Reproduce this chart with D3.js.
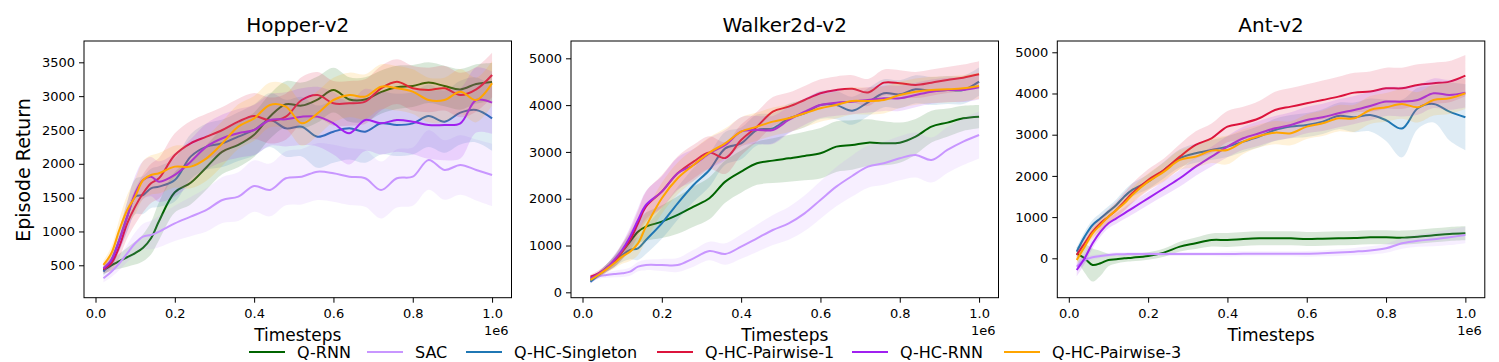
<!DOCTYPE html>
<html>
<head>
  <meta charset="utf-8">
  <title>Episode Return vs Timesteps</title>
  <script src="https://cdn.jsdelivr.net/npm/d3@7"></script>
  <style>
    body { margin: 0; background: #fff; }
    svg text { font-family: "DejaVu Sans", sans-serif; fill: #000; }
  </style>
</head>
<body>
<script>
  // timesteps (in units of 1e6) where the curves are sampled
  var steps = [0.02, 0.04, 0.06, 0.08, 0.10, 0.12, 0.14, 0.16, 0.20, 0.24, 0.28, 0.32, 0.36, 0.40,
               0.44, 0.48, 0.52, 0.56, 0.60, 0.64, 0.68, 0.72, 0.76, 0.80, 0.84, 0.88, 0.92, 0.96, 1.00];

  var methods = ["Q-RNN", "SAC", "Q-HC-Singleton", "Q-HC-Pairwise-1", "Q-HC-RNN", "Q-HC-Pairwise-3"];
  var colors = ["#006400", "#c896ff", "#1f77b4", "#dc143c", "#a020f0", "#ffa500"];
  var envs = ["Hopper-v2", "Walker2d-v2", "Ant-v2"];

  var xTicks = [0, 0.2, 0.4, 0.6, 0.8, 1.0];
  var hopperTicks = [500, 1000, 1500, 2000, 2500, 3000, 3500];
  var walkerTicks = [0, 1000, 2000, 3000, 4000, 5000];
  var antTicks = [0, 1000, 2000, 3000, 4000, 5000];

  // mean episode return, one row per method (same order as methods)
  var hopperMean = [
    [430, 500, 560, 620, 680, 760, 900, 1150, 1580, 1720, 1950, 2180, 2280, 2430, 2700, 2880, 2860, 2950, 3090, 2950, 2950, 3060, 3130, 3150, 3200, 3150, 3100, 3180, 3210],
    [308, 406, 530, 677, 825, 924, 948, 997, 1120, 1219, 1318, 1465, 1515, 1672, 1613, 1786, 1810, 1884, 1860, 1810, 1786, 1613, 1786, 1810, 2057, 1909, 1983, 1909, 1835],
    [406, 579, 874, 1219, 1515, 1539, 1638, 1663, 1761, 2106, 2254, 2303, 2401, 2500, 2648, 2525, 2549, 2401, 2475, 2525, 2475, 2598, 2574, 2598, 2707, 2623, 2756, 2796, 2672],
    [440, 530, 776, 1120, 1367, 1564, 1712, 1786, 2130, 2303, 2401, 2500, 2623, 2707, 2640, 2697, 2943, 3017, 2894, 2894, 2919, 3116, 3214, 3116, 3091, 3116, 3017, 3100, 3313],
    [456, 579, 874, 1219, 1564, 1761, 1810, 1736, 1835, 2032, 2254, 2377, 2451, 2500, 2648, 2657, 2697, 2697, 2598, 2451, 2648, 2598, 2648, 2623, 2574, 2574, 2598, 2943, 2904],
    [505, 677, 1022, 1318, 1515, 1761, 1835, 1860, 1958, 1958, 2081, 2303, 2549, 2672, 2870, 2845, 2598, 2746, 2943, 3017, 2993, 3140, 3116, 3066, 2943, 2943, 3066, 2943, 3190]
  ];
  // half width of the shaded band
  var hopperSpread = [
    [60, 80, 110, 140, 170, 200, 240, 280, 300, 320, 330, 330, 330, 330, 330, 340, 340, 340, 330, 330, 330, 320, 320, 310, 300, 300, 300, 290, 280],
    [60, 80, 100, 130, 160, 190, 210, 230, 260, 290, 320, 340, 360, 380, 390, 400, 410, 420, 420, 420, 420, 420, 430, 430, 440, 440, 440, 450, 460],
    [60, 100, 160, 220, 260, 280, 290, 300, 320, 330, 340, 350, 360, 380, 400, 420, 440, 460, 460, 460, 460, 460, 460, 460, 460, 460, 470, 480, 480],
    [60, 100, 160, 220, 260, 280, 290, 300, 320, 330, 340, 340, 340, 340, 340, 340, 340, 340, 330, 330, 330, 330, 330, 330, 330, 330, 330, 330, 330],
    [60, 100, 160, 220, 260, 280, 290, 300, 320, 330, 340, 350, 360, 370, 380, 400, 420, 440, 460, 460, 460, 460, 470, 480, 500, 520, 520, 480, 460],
    [60, 100, 160, 220, 260, 280, 290, 300, 310, 320, 330, 330, 330, 330, 330, 330, 330, 330, 330, 330, 330, 330, 330, 330, 330, 330, 330, 330, 330]
  ];

  var walkerMean = [
    [264, 370, 513, 655, 869, 1083, 1296, 1403, 1510, 1653, 1831, 2009, 2365, 2579, 2757, 2814, 2863, 2913, 2970, 3113, 3148, 3198, 3184, 3198, 3326, 3540, 3626, 3718, 3754],
    [228, 335, 370, 392, 406, 442, 548, 584, 584, 584, 727, 883, 819, 976, 1154, 1332, 1474, 1688, 1973, 2258, 2486, 2685, 2757, 2863, 2935, 2828, 3042, 3220, 3362],
    [228, 370, 513, 655, 798, 905, 940, 1118, 1474, 1902, 2294, 2614, 3077, 3184, 3469, 3504, 3718, 3825, 4003, 4000, 3880, 4060, 4252, 4231, 4338, 4302, 4324, 4324, 4502],
    [335, 406, 513, 655, 869, 1118, 1474, 1831, 2151, 2543, 2792, 2985, 2870, 3255, 3540, 3861, 3967, 4110, 4252, 4324, 4350, 4270, 4480, 4466, 4430, 4480, 4537, 4587, 4658],
    [299, 392, 513, 691, 905, 1190, 1546, 1866, 2151, 2543, 2721, 2970, 3148, 3433, 3469, 3469, 3683, 3861, 4003, 4053, 4074, 4110, 4146, 4146, 4217, 4288, 4324, 4324, 4381],
    [264, 370, 491, 620, 762, 869, 1047, 1403, 2009, 2436, 2721, 2985, 3184, 3433, 3540, 3647, 3718, 3825, 3932, 4003, 4088, 4088, 4110, 4217, 4288, 4324, 4338, 4359, 4409]
  ];
  var walkerSpread = [
    [40, 60, 80, 120, 160, 200, 250, 300, 350, 400, 430, 450, 450, 450, 460, 480, 500, 520, 540, 540, 530, 500, 470, 430, 380, 340, 300, 270, 250],
    [40, 50, 60, 70, 80, 90, 100, 110, 130, 150, 180, 200, 230, 260, 290, 320, 350, 380, 400, 420, 440, 450, 460, 470, 480, 480, 490, 500, 500],
    [40, 60, 80, 110, 150, 200, 250, 300, 330, 350, 360, 360, 350, 340, 330, 320, 310, 300, 300, 300, 300, 300, 300, 300, 300, 300, 300, 300, 300],
    [40, 60, 80, 120, 170, 220, 270, 320, 350, 360, 360, 350, 340, 330, 320, 310, 300, 300, 300, 290, 290, 290, 280, 280, 280, 280, 280, 280, 280],
    [40, 60, 80, 110, 150, 200, 250, 300, 330, 340, 340, 330, 320, 310, 300, 300, 290, 280, 280, 280, 270, 270, 270, 270, 260, 260, 260, 260, 260],
    [40, 60, 80, 110, 150, 200, 250, 300, 330, 340, 340, 330, 320, 310, 300, 300, 300, 300, 290, 290, 290, 290, 290, 280, 280, 280, 280, 280, 280]
  ];

  var antMean = [
    [121, 0, -162, -121, -40, -24, 0, 16, 57, 138, 283, 364, 445, 445, 469, 485, 485, 485, 469, 477, 485, 493, 510, 510, 502, 526, 558, 591, 607],
    [-202, -40, 24, 57, 81, 97, 100, 105, 105, 105, 105, 105, 105, 105, 110, 110, 110, 110, 110, 121, 138, 162, 190, 243, 364, 429, 461, 510, 566],
    [162, 526, 809, 971, 1133, 1295, 1497, 1659, 1861, 2144, 2427, 2549, 2630, 2710, 2832, 2953, 3115, 3196, 3236, 3317, 3455, 3422, 3479, 3350, 3150, 3641, 3746, 3560, 3422],
    [81, 364, 647, 850, 1011, 1173, 1375, 1578, 1901, 2144, 2468, 2751, 2913, 3196, 3277, 3398, 3601, 3681, 3762, 3843, 3924, 4021, 4046, 4126, 4126, 4207, 4248, 4288, 4434],
    [-283, 0, 364, 647, 850, 971, 1092, 1214, 1456, 1699, 1942, 2225, 2468, 2710, 2913, 3034, 3156, 3236, 3358, 3422, 3520, 3601, 3698, 3803, 3803, 3843, 4005, 3965, 4021],
    [-40, 283, 607, 809, 1011, 1173, 1335, 1537, 1861, 2104, 2387, 2468, 2613, 2630, 2832, 2969, 3050, 3034, 3196, 3277, 3398, 3398, 3601, 3665, 3746, 3665, 3843, 3884, 4005]
  ];
  var antSpread = [
    [150, 350, 400, 300, 150, 100, 90, 90, 90, 100, 120, 140, 160, 170, 170, 170, 170, 170, 170, 170, 170, 170, 170, 170, 170, 170, 170, 170, 170],
    [120, 80, 60, 50, 50, 50, 50, 50, 50, 50, 50, 50, 50, 60, 60, 60, 60, 60, 70, 70, 80, 90, 100, 110, 130, 150, 170, 190, 200],
    [100, 120, 120, 130, 130, 140, 150, 160, 180, 200, 220, 230, 240, 250, 250, 260, 270, 280, 290, 300, 320, 360, 400, 500, 700, 500, 450, 700, 800],
    [100, 120, 140, 160, 180, 200, 220, 240, 260, 280, 300, 330, 360, 380, 400, 420, 440, 450, 460, 470, 480, 480, 490, 500, 500, 500, 500, 500, 500],
    [150, 130, 120, 120, 120, 130, 140, 150, 160, 180, 200, 220, 240, 260, 280, 300, 300, 310, 320, 330, 340, 340, 350, 350, 360, 360, 360, 360, 360],
    [100, 120, 130, 140, 150, 160, 170, 180, 200, 220, 240, 260, 300, 350, 300, 280, 280, 290, 300, 310, 320, 330, 340, 350, 360, 370, 380, 380, 380]
  ];

  // layout of the three axes boxes
  var plotTop = 41, plotWidth = 427.5, plotHeight = 256.7;
  var panels = [
    {title: envs[0], mean: hopperMean, spread: hopperSpread, ticks: hopperTicks, yDomain: [21, 3815], left: 84},
    {title: envs[1], mean: walkerMean, spread: walkerSpread, ticks: walkerTicks, yDomain: [-115, 5370], left: 571},
    {title: envs[2], mean: antMean, spread: antSpread, ticks: antTicks, yDomain: [-956, 5274], left: 1057.3}
  ];

  var svg = d3.select("body").append("svg")
      .attr("width", 1499)
      .attr("height", 362);

  panels.forEach(function (p, i) {
    var g = svg.append("g")
        .attr("transform", "translate(" + p.left + "," + plotTop + ")");

    var x = d3.scaleLinear().domain([-0.029, 1.049]).range([0, plotWidth]);
    var y = d3.scaleLinear().domain(p.yDomain).range([plotHeight, 0]);

    g.append("clipPath").attr("id", "clip" + i)
      .append("rect").attr("width", plotWidth).attr("height", plotHeight);

    var plot = g.append("g").attr("clip-path", "url(#clip" + i + ")");

    var area = d3.area()
        .x(function (d) { return x(d.t); })
        .y0(function (d) { return y(d.m - d.s); })
        .y1(function (d) { return y(d.m + d.s); })
        .curve(d3.curveCatmullRom);
    var line = d3.line()
        .x(function (d) { return x(d.t); })
        .y(function (d) { return y(d.m); })
        .curve(d3.curveCatmullRom);

    methods.forEach(function (name, k) {
      var pts = steps.map(function (t, j) {
        return {t: t, m: p.mean[k][j], s: p.spread[k][j]};
      });
      plot.append("path").datum(pts)
        .attr("fill", colors[k])
        .attr("fill-opacity", 0.15)
        .attr("d", area);
      plot.append("path").datum(pts)
        .attr("fill", "none")
        .attr("stroke", colors[k])
        .attr("stroke-width", 2)
        .attr("d", line);
    });

    // axes
    var yAxis = g.append("g")
        .call(d3.axisLeft(y).tickValues(p.ticks).tickFormat(d3.format("d")).tickSize(5).tickPadding(4));
    var xAxis = g.append("g")
        .attr("transform", "translate(0," + plotHeight + ")")
        .call(d3.axisBottom(x).tickValues(xTicks).tickFormat(d3.format(".1f")).tickSize(5).tickPadding(6));
    [xAxis, yAxis].forEach(function (a) {
      a.select(".domain").remove();
      a.selectAll("text").style("font-size", "13px").style("font-family", "DejaVu Sans");
      a.selectAll("line").attr("stroke", "#000");
    });

    // frame
    g.append("rect")
      .attr("width", plotWidth).attr("height", plotHeight)
      .attr("fill", "none").attr("stroke", "#000").attr("stroke-width", 1);

    // title
    g.append("text")
      .attr("x", plotWidth / 2).attr("y", 32 - plotTop)
      .style("text-anchor", "middle").style("font-size", "20px")
      .text(p.title);

    // x label and offset
    g.append("text")
      .attr("x", plotWidth / 2).attr("y", 341 - plotTop)
      .style("text-anchor", "middle").style("font-size", "17px")
      .text("Timesteps");
    g.append("text")
      .attr("x", plotWidth - 3).attr("y", 335 - plotTop)
      .style("text-anchor", "end").style("font-size", "13px")
      .text("1e6");
  });

  // y label
  svg.append("text")
    .attr("transform", "rotate(-90)")
    .attr("x", -170).attr("y", 30)
    .style("text-anchor", "middle").style("font-size", "19px")
    .text("Episode Return");

  // legend
  var legendX = [249, 367, 466, 657, 852, 1004];
  var legend = svg.append("g");
  methods.forEach(function (name, k) {
    legend.append("line")
      .attr("x1", legendX[k]).attr("x2", legendX[k] + 36)
      .attr("y1", 352).attr("y2", 352)
      .attr("stroke", colors[k]).attr("stroke-width", 2);
    legend.append("text")
      .attr("x", legendX[k] + 48).attr("y", 358)
      .style("font-size", "16px")
      .text(name);
  });
</script>
</body>
</html>
